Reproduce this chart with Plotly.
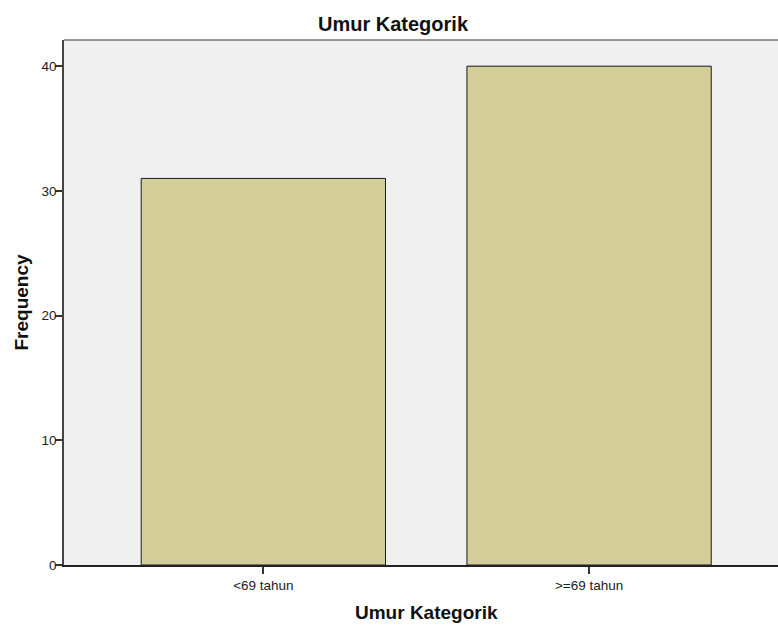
import plotly.graph_objects as go

# data
categories = ['<69 tahun', '>=69 tahun']
frequency = [31, 40]
y_ticks = [0, 10, 20, 30, 40]

W, H = 778, 626
L, T, B = 64, 40, 61
plot_w = W - L
plot_h = H - T - B

fig = go.Figure()

fig.add_trace(go.Bar(
    x=categories,
    y=frequency,
    width=0.75,
    marker=dict(color='#D3CE97', line=dict(color='#1a1a1a', width=1)),
))

fig.update_layout(
    width=W, height=H,
    margin=dict(l=L, r=0, t=T, b=B, pad=0),
    paper_bgcolor='white',
    plot_bgcolor='#F0F0F0',
    showlegend=False,
    font=dict(family='Liberation Sans, Arial, sans-serif', color='#222', size=13.5),
    title=dict(text='<b>Umur Kategorik</b>', x=393 / W, xanchor='center',
               y=1 - 24 / H, yanchor='middle',
               font=dict(size=20, color='#111')),
)

fig.update_xaxes(
    type='category',
    range=[-0.612, 1.58],
    showgrid=False, zeroline=False,
    showline=True, linecolor='#222', linewidth=1.5,
    ticks='outside', ticklen=7, tickwidth=1.5, tickcolor='#333',
    tickfont=dict(size=13.5, color='#222'),
)

fig.update_yaxes(
    range=[0, 42.1],
    tickvals=y_ticks,
    showgrid=False, zeroline=False,
    showline=True, linecolor='#444', linewidth=1.5,
    ticks='outside', ticklen=7, tickwidth=1.5, tickcolor='#333',
    ticklabelstandoff=-4,
    tickfont=dict(size=13.5, color='#222'),
)

# axis titles
fig.add_annotation(text='<b>Umur Kategorik</b>', xref='paper', yref='paper',
                   x=(426 - L) / plot_w, y=(565 - 612) / plot_h,
                   xanchor='center', yanchor='middle', showarrow=False,
                   font=dict(size=19, color='#111'))
fig.add_annotation(text='<b>Frequency</b>', xref='paper', yref='paper',
                   x=(21 - L) / plot_w, y=0.5, textangle=-90,
                   xanchor='center', yanchor='middle', showarrow=False,
                   font=dict(size=19, color='#111'))

# top border of the plot frame
fig.add_shape(type='line', xref='paper', yref='paper', x0=0, x1=1, y0=1, y1=1,
              line=dict(color='#777', width=1.5))

fig.write_html('out.html', config={'displayModeBar': False},
               post_script="document.body.style.margin='0';")
